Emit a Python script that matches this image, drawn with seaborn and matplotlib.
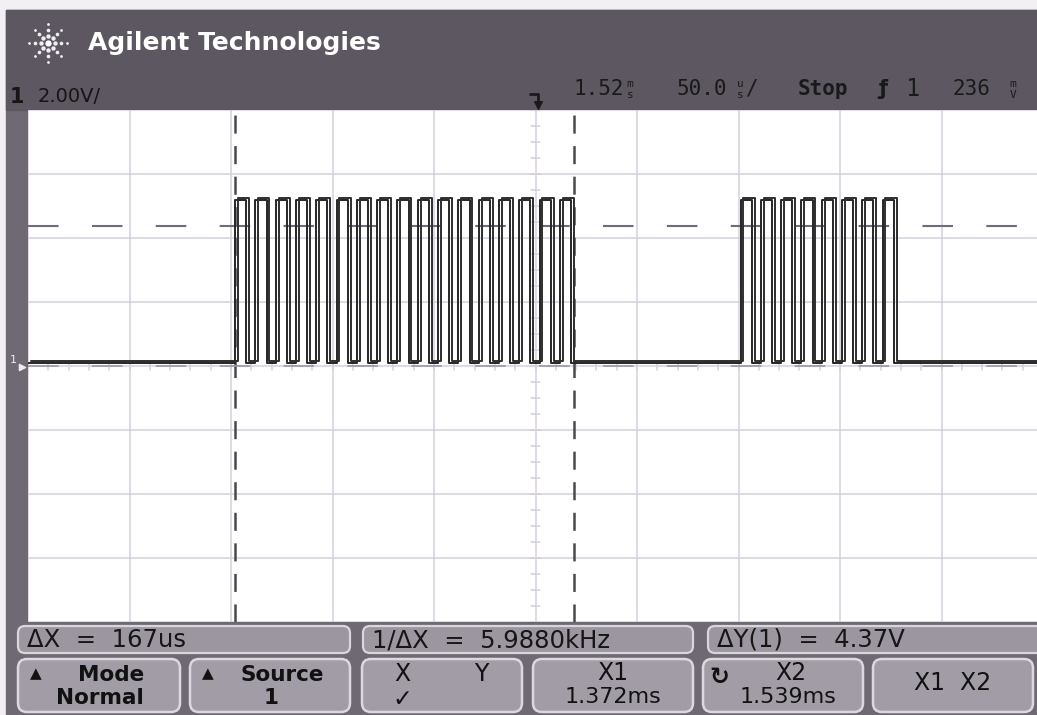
import numpy as np
import pandas as pd
import matplotlib
matplotlib.use("Agg")
import matplotlib.pyplot as plt
import seaborn as sns
from matplotlib.patches import FancyBboxPatch, Rectangle

time_window_ms = [1.27, 1.77]          # 50 us/div, centre 1.52 ms
volt_window = [-8.0, 8.0]              # 2 V/div, ground at centre
burst1_rise_ms = [1.372, 1.382, 1.392, 1.402, 1.412, 1.422, 1.432, 1.442, 1.452,
                  1.462, 1.472, 1.482, 1.492, 1.502, 1.512, 1.522, 1.532]
burst2_rise_ms = [1.621, 1.631, 1.641, 1.651, 1.661, 1.671, 1.681, 1.691]
pulse_width_ms = 0.0055
v_low = 0.1
v_high = 5.2
cursor_x_ms = [1.372, 1.539]
cursor_y_v = [0.0, 4.37]

header_title = "Agilent Technologies"
channel_label = "2.00V/"
info_texts = ["ΔX  =  167us", "1/ΔX  =  5.9880kHz", "ΔY(1)  =  4.37V"]
button_top = ["Mode", "Source", "X", "X1", "X2", "X1  X2"]
button_bottom = ["Normal", "1", "✓", "1.372ms", "1.539ms", ""]

# ---------------- waveform table ----------------
t = [time_window_ms[0]]
v = [v_low]
for r in burst1_rise_ms + burst2_rise_ms:
    t += [r, r, r + pulse_width_ms, r + pulse_width_ms]
    v += [v_low, v_high, v_high, v_low]
t.append(time_window_ms[1])
v.append(v_low)
wave = pd.DataFrame({"t": t, "v": v})
jitter = pd.DataFrame({"t": wave["t"] + 0.0014, "v": wave["v"] + 0.06})

# ---------------- figure ----------------
W, H = 1037, 715
plt.rcParams["lines.scale_dashes"] = False
sns.set_theme(style="white")
plt.rcParams["font.family"] = ["DejaVu Sans"]
fig = plt.figure(figsize=(W / 100, H / 100), dpi=100)

bg = fig.add_axes([0, 0, 1, 1])
bg.set_xlim(0, W)
bg.set_ylim(H, 0)
bg.axis("off")

frame_col = "#6f6974"
header_col = "#5c5761"
bg.add_patch(Rectangle((0, 0), W, H, color="#f2f0f2", zorder=0))
bg.add_patch(Rectangle((6, 10), W - 6, H - 10, color=frame_col, zorder=1))
bg.add_patch(Rectangle((6, 10), W - 6, 100, color=header_col, zorder=1))

# logo starburst
for ang in np.arange(0, 360, 45):
    for rr, s in [(7, 10), (13, 7), (19, 4)]:
        bg.scatter(48 + rr * np.cos(np.radians(ang)), 43 + rr * np.sin(np.radians(ang)),
                   s=s, color="#f0eef2", zorder=3, linewidths=0)
bg.scatter([48], [43], s=12, color="white", zorder=3)
bg.text(88, 43, header_title, color="white", fontsize=18, fontweight="bold",
        va="center", ha="left", zorder=3)

# channel scale
bg.text(10, 97, "1", color="#151515", fontsize=15, fontweight="bold", va="center", zorder=3)
bg.text(38, 97, channel_label, color="#151515", fontsize=14, va="center", zorder=3)

# status line
mono = "DejaVu Sans Mono"
sc = "#1a1a1a"
bg.text(573, 89, "1.52", family=mono, fontsize=15, color=sc, va="center", zorder=3)
bg.text(630, 84, "m", family=mono, fontsize=8, color=sc, va="center", ha="center", zorder=3)
bg.text(630, 95, "s", family=mono, fontsize=8, color=sc, va="center", ha="center", zorder=3)
bg.text(677, 89, "50.0", family=mono, fontsize=15, color=sc, va="center", zorder=3)
bg.text(740, 84, "u", family=mono, fontsize=8, color=sc, va="center", ha="center", zorder=3)
bg.text(740, 95, "s", family=mono, fontsize=8, color=sc, va="center", ha="center", zorder=3)
bg.text(746, 89, "/", family=mono, fontsize=15, color=sc, va="center", zorder=3)
bg.text(798, 89, "Stop", family=mono, fontsize=15, fontweight="bold", color=sc, va="center", zorder=3)
bg.text(878, 89, "ƒ", fontsize=15, fontweight="bold", color=sc, va="center", zorder=3)
bg.text(905, 89, "1", family=mono, fontsize=17, color=sc, va="center", zorder=3)
bg.text(953, 89, "236", family=mono, fontsize=15, color=sc, va="center", zorder=3)
bg.text(1013, 84, "m", family=mono, fontsize=8, color=sc, va="center", ha="center", zorder=3)
bg.text(1013, 95, "V", family=mono, fontsize=8, color=sc, va="center", ha="center", zorder=3)

# trigger position marker
bg.plot([530, 538, 538], [94, 94, 104], color="#1a1a1a", lw=2, zorder=3)
bg.scatter([538], [105], marker="v", s=30, color="#1a1a1a", zorder=3)

# ground marker
bg.text(13, 360, "1", color="#eeeaf0", fontsize=8, va="center", ha="center", zorder=3)
bg.scatter([22], [367], marker=">", s=20, color="#eeeaf0", zorder=3)

# info boxes
info_boxes = [(18, 350), (363, 693), (708, 1045)]
for (x0, x1), txt in zip(info_boxes, info_texts):
    bg.add_patch(FancyBboxPatch((x0, 626), x1 - x0, 27,
                                boxstyle="round,pad=0,rounding_size=7",
                                fc="#9c96a0", ec="#d9d5dc", lw=1.6, zorder=2))
    bg.text(x0 + 9, 640, txt, fontsize=17.5, color="#161616", va="center", ha="left", zorder=3)

# buttons
buttons = [(18, 180), (190, 350), (362, 522), (533, 693), (703, 863), (873, 1033)]
for i, ((x0, x1), top, bot) in enumerate(zip(buttons, button_top, button_bottom)):
    bg.add_patch(FancyBboxPatch((x0, 659), x1 - x0, 53,
                                boxstyle="round,pad=0,rounding_size=9",
                                fc="#a29ca6", ec="#dcd8de", lw=1.8, zorder=2))
    cx = (x0 + x1) / 2
    if i < 2:
        bg.text(x0 + 12, 674, "▲", fontsize=11, color="#111", va="center", ha="left", zorder=3)
        bg.text(cx + 12, 675, top, fontsize=15.5, fontweight="bold", color="#111",
                va="center", ha="center", zorder=3)
        bg.text(cx + 1, 698, bot, fontsize=15.5, fontweight="bold", color="#111",
                va="center", ha="center", zorder=3)
    elif i == 2:
        bg.text(402, 674, "X", fontsize=17, color="#111", va="center", ha="center", zorder=3)
        bg.text(481, 674, "Y", fontsize=17, color="#111", va="center", ha="center", zorder=3)
        bg.text(402, 699, bot, fontsize=17, color="#111", va="center", ha="center", zorder=3)
    elif i == 5:
        bg.text(cx, 683, top, fontsize=17, color="#111", va="center", ha="center", zorder=3)
    else:
        bg.text(cx + (8 if i == 4 else 0), 673, top, fontsize=17, color="#111",
                va="center", ha="center", zorder=3)
        bg.text(cx + (5 if i == 4 else 0), 697, bot, fontsize=16, color="#111",
                va="center", ha="center", zorder=3)
        if i == 4:
            bg.text(x0 + 16, 677, "↻", fontsize=17, fontweight="bold", color="#111",
                    va="center", ha="center", zorder=3)

# ---------------- scope screen ----------------
left, right, top, bottom = 28, 1043, 110, 622
ax = fig.add_axes([left / W, (H - bottom) / H, (right - left) / W, (bottom - top) / H])
ax.set_facecolor("white")
ax.set_xlim(*time_window_ms)
ax.set_ylim(*volt_window)
for s in ax.spines.values():
    s.set_visible(False)
grid_col = "#d6cfdc"
ax.set_xticks(np.linspace(time_window_ms[0], time_window_ms[1], 11))
ax.set_yticks(np.linspace(volt_window[0], volt_window[1], 9))
ax.grid(True, color=grid_col, lw=1.1)
ax.tick_params(length=0, labelbottom=False, labelleft=False)

# centre-axis minor ticks
tc = np.mean(time_window_ms)
dx = 0.002
dy = 0.13
for yy in np.arange(volt_window[0], volt_window[1] + 0.01, 0.5):
    ax.plot([tc - dx, tc + dx], [yy, yy], color=grid_col, lw=1.1, zorder=1)
for tt in np.arange(time_window_ms[0], time_window_ms[1] + 1e-6, 0.01):
    ax.plot([tt, tt], [-dy, dy], color=grid_col, lw=1.1, zorder=1)

# cursors
for cx_ in cursor_x_ms:
    ax.axvline(cx_, color="#4a4a4e", lw=1.8, dashes=(13, 9), zorder=2)
ax.axhline(cursor_y_v[0], color="#9a98a6", lw=1.2, dashes=(22, 24), zorder=2)
ax.axhline(cursor_y_v[1], color="#6e6c7a", lw=1.5, dashes=(22, 24), zorder=2)

# trace
sns.lineplot(data=wave, x="t", y="v", sort=False, estimator=None, ax=ax,
             color="#262626", lw=1.4, zorder=4)
sns.lineplot(data=jitter, x="t", y="v", sort=False, estimator=None, ax=ax,
             color="#2e2e2e", lw=1.4, zorder=4)
ax.set_xlabel("")
ax.set_ylabel("")

fig.savefig("out.png", dpi=100)
